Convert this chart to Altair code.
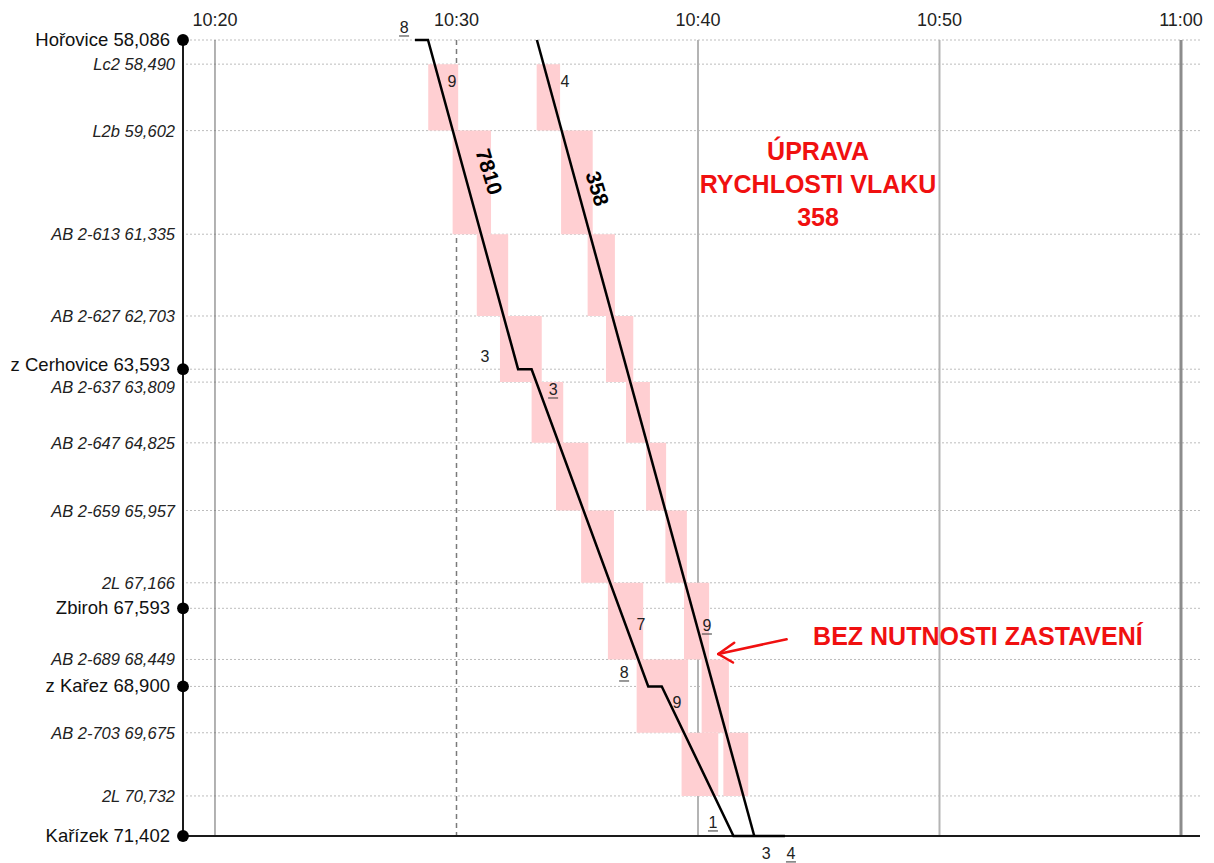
import altair as alt
import pandas as pd

# ---------------- data ----------------
# time axis: minutes after 10:00 ; distance axis: km
x_domain = [18.675, 60.787]
y_domain = [58.086, 71.402]

point_km = [58.086, 58.490, 59.602, 61.335, 62.703, 63.593, 63.809, 64.825,
            65.957, 67.166, 67.593, 68.449, 68.900, 69.675, 70.732, 71.402]
point_names = ["Hořovice 58,086", "Lc2 58,490", "L2b 59,602", "AB 2-613 61,335",
               "AB 2-627 62,703", "z Cerhovice 63,593", "AB 2-637 63,809",
               "AB 2-647 64,825", "AB 2-659 65,957", "2L 67,166", "Zbiroh 67,593",
               "AB 2-689 68,449", "z Kařez 68,900", "AB 2-703 69,675", "2L 70,732",
               "Kařízek 71,402"]
is_station = [True, False, False, False, False, True, False, False, False, False,
              True, False, True, False, False, True]

time_ticks = [20, 30, 40, 50, 60]
time_labels = ["10:20", "10:30", "10:40", "10:50", "11:00"]

# train paths
t7810_t = [28.28, 28.82, 32.55, 33.11, 37.94, 38.50, 41.47, 43.60]
t7810_km = [58.086, 58.086, 63.593, 63.593, 68.900, 68.900, 71.402, 71.402]
t358_t = [33.33, 42.33]
t358_km = [58.086, 71.402]

# block occupation (km from, km to, time from, time to)
block_km1 = [58.490, 59.602, 61.335, 62.703, 63.809, 64.825, 65.957, 67.166, 68.449, 69.675]
block_km2 = [59.602, 61.335, 62.703, 63.809, 64.825, 65.957, 67.166, 68.449, 69.675, 70.732]
b7810_t1 = [28.83, 29.84, 30.84, 31.80, 33.11, 34.12, 35.16, 36.27, 37.46, 39.32]
b7810_t2 = [30.07, 31.43, 32.14, 33.53, 34.42, 35.46, 36.52, 37.73, 39.59, 40.84]
b358_t1 = [33.32, 34.33, 35.43, 36.19, 37.02, 37.85, 38.65, 39.42, 40.15, 41.05]
b358_t2 = [34.29, 35.64, 36.56, 37.32, 38.01, 38.68, 39.54, 40.46, 41.28, 42.08]

# minute digits written along the paths
digit_text = ["8", "9", "3", "3", "7", "8", "9", "1", "3", "4", "4", "9"]
digit_t = [27.83, 29.81, 31.18, 34.00, 37.64, 36.94, 39.13, 40.62, 42.82, 43.85, 34.49, 40.37]
digit_km = [57.885, 58.789, 63.389, 63.941, 67.872, 68.675, 69.177, 71.184, 71.702, 71.702, 58.789, 67.889]
digit_under = [True, False, False, True, False, True, False, True, False, True, False, True]

train_names = ["7810", "358"]
train_label_t = [31.30, 35.78]
train_label_km = [60.294, 60.578]

note1 = "ÚPRAVA\nRYCHLOSTI VLAKU\n358"
note1_t, note1_km = 44.97, 59.96
note2 = "BEZ NUTNOSTI ZASTAVENÍ"
note2_t, note2_km = 51.59, 68.07
arrow_t1 = [43.67, 40.84, 40.84]
arrow_km1 = [68.111, 68.357, 68.357]
arrow_t2 = [40.84, 41.50, 41.45]
arrow_km2 = [68.357, 68.17, 68.50]

# ---------------- frames ----------------
FONT = "Liberation Sans"
RED = "#f01010"

pts = pd.DataFrame({"km": point_km, "name": point_names, "station": is_station,
                    "t": [x_domain[0]] * len(point_km)})
ticks = pd.DataFrame({"t": time_ticks, "label": time_labels, "km": [y_domain[0]] * 5})
paths = pd.DataFrame({
    "train": ["7810"] * len(t7810_t) + ["358"] * len(t358_t),
    "order": list(range(len(t7810_t))) + list(range(len(t358_t))),
    "t": t7810_t + t358_t,
    "km": t7810_km + t358_km,
})
blocks = pd.DataFrame({
    "km1": block_km1 * 2, "km2": block_km2 * 2,
    "t1": b7810_t1 + b358_t1, "t2": b7810_t2 + b358_t2,
})
digits = pd.DataFrame({"txt": digit_text, "t": digit_t, "km": digit_km, "u": digit_under})
tlabels = pd.DataFrame({"txt": train_names, "t": train_label_t, "km": train_label_km})
arrow = pd.DataFrame({"t1": arrow_t1, "km1": arrow_km1, "t2": arrow_t2, "km2": arrow_km2})

xs = alt.Scale(domain=x_domain, nice=False, zero=False)
ys = alt.Scale(domain=y_domain, reverse=True, nice=False, zero=False)

def X(f="t"):
    return alt.X(f"{f}:Q", scale=xs, axis=None)

def Y(f="km"):
    return alt.Y(f"{f}:Q", scale=ys, axis=None)

grid_h = alt.Chart(pts).mark_rule(color="#bdbdbd", strokeWidth=1, strokeDash=[2, 2]).encode(y=Y())

vline_df = pd.DataFrame({"t": time_ticks, "km1": [y_domain[0]] * 5, "km2": [y_domain[1]] * 5})
v20 = alt.Chart(vline_df.iloc[[0]]).mark_rule(color="#666666", strokeWidth=1).encode(
    x=X(), y=Y("km1"), y2="km2:Q")
v30 = alt.Chart(vline_df.iloc[[1]]).mark_rule(color="#7a7a7a", strokeWidth=1.5, strokeDash=[5, 4]).encode(
    x=X(), y=Y("km1"), y2="km2:Q")
v4050 = alt.Chart(vline_df.iloc[[2, 3]]).mark_rule(color="#b4b4b4", strokeWidth=2).encode(
    x=X(), y=Y("km1"), y2="km2:Q")
v60 = alt.Chart(vline_df.iloc[[4]]).mark_rule(color="#8c8c8c", strokeWidth=3).encode(
    x=X(), y=Y("km1"), y2="km2:Q")

rects = alt.Chart(blocks).mark_rect(color="#ffcfd2").encode(
    x=X("t1"), x2="t2:Q", y=Y("km1"), y2="km2:Q")

axis_df = pd.DataFrame({"t1": [x_domain[0], x_domain[0]], "t2": [x_domain[0], x_domain[1]],
                        "km1": [y_domain[0], y_domain[1]], "km2": [y_domain[1], y_domain[1]]})
axes = alt.Chart(axis_df).mark_rule(color="#1a1a1a", strokeWidth=2).encode(
    x=X("t1"), x2="t2:Q", y=Y("km1"), y2="km2:Q")

lines = alt.Chart(paths).mark_line(color="black", strokeWidth=2.5, strokeJoin="miter").encode(
    x=X(), y=Y(), detail="train:N", order="order:Q")

dots = alt.Chart(pts[pts.station]).mark_circle(color="black", opacity=1, size=140).encode(
    x=X(), y=Y())

st = pts[pts.station]
sig = pts[~pts.station]
st_up = st.name.str.startswith("z Cerhovice")
sig_down = sig.name.str.startswith("AB 2-637")

def station_text(df, dy):
    return alt.Chart(df).mark_text(
        align="right", baseline="middle", dx=-13, dy=dy, fontSize=18.5, font=FONT,
        color="#111").encode(x=X(), y=Y(), text="name:N")

def signal_text(df, dy):
    return alt.Chart(df).mark_text(
        align="right", baseline="middle", dx=-8, dy=dy, fontSize=16.5, font=FONT,
        fontStyle="italic", color="#222").encode(x=X(), y=Y(), text="name:N")

st_labels = station_text(st[~st_up], 0) + station_text(st[st_up], -4)
sig_labels = signal_text(sig[~sig_down], 1) + signal_text(sig[sig_down], 6)

tick_labels = alt.Chart(ticks).mark_text(
    align="center", baseline="middle", dy=-19, fontSize=18, font=FONT, color="#222").encode(
    x=X(), y=Y(), text="label:N")

digit_marks = alt.Chart(digits).mark_text(
    align="center", baseline="middle", fontSize=16, font=FONT, color="#222").encode(
    x=X(), y=Y(), text="txt:N")
underlines = alt.Chart(digits[digits.u]).mark_rule(
    color="#333", strokeWidth=1, xOffset=-5, x2Offset=5, yOffset=8, y2Offset=8).encode(
    x=X(), x2="t:Q", y=Y(), y2="km:Q")

train_text = alt.Chart(tlabels).mark_text(
    align="center", baseline="middle", angle=73, fontSize=21, fontWeight="bold",
    font=FONT, color="black").encode(x=X(), y=Y(), text="txt:N")

note1_mark = alt.Chart(pd.DataFrame({"t": [note1_t], "km": [note1_km], "txt": [note1]})).mark_text(
    align="center", baseline="middle", fontSize=25, fontWeight="bold", font=FONT, color=RED,
    lineBreak="\n", lineHeight=33).encode(x=X(), y=Y(), text="txt:N")
note2_mark = alt.Chart(pd.DataFrame({"t": [note2_t], "km": [note2_km], "txt": [note2]})).mark_text(
    align="center", baseline="middle", fontSize=25, fontWeight="bold", font=FONT, color=RED
).encode(x=X(), y=Y(), text="txt:N")
arrow_mark = alt.Chart(arrow).mark_rule(color=RED, strokeWidth=2.5, strokeCap="round").encode(
    x=X("t1"), x2="t2:Q", y=Y("km1"), y2="km2:Q")

chart = alt.layer(
    grid_h, v20, v30, v4050, v60, rects, axes, lines, dots, st_labels, sig_labels,
    tick_labels, digit_marks, underlines, train_text, note1_mark, note2_mark, arrow_mark
).properties(
    width=1017, height=796,
    autosize=alt.AutoSizeParams(type="none"),
    padding={"left": 183, "top": 40, "right": 14, "bottom": 27},
    background="white",
).configure_view(stroke=None)

chart.save("out.html", embed_options={"renderer": "svg", "actions": False})
